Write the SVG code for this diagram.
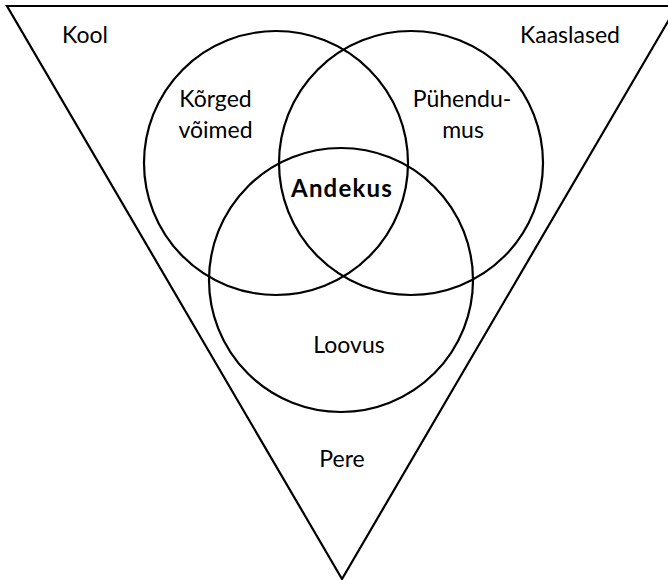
<svg xmlns="http://www.w3.org/2000/svg" width="668" height="580" viewBox="0 0 668 580">
<style>
.shape{fill:none;stroke:#000;stroke-width:2.2}
.lbl{font-family:Lato,"Liberation Sans",sans-serif;font-size:23px;fill:#000;text-anchor:middle}
.bold{font-weight:bold;font-size:24px;letter-spacing:1.2px}
</style>
<rect x="0" y="0" width="668" height="580" fill="#fff"/>
<g id="triangle">
<polygon class="shape" points="7,6 677,6 342,579"/>
<text class="lbl" x="85" y="43">Kool</text>
<text class="lbl" x="570" y="43">Kaaslased</text>
<text class="lbl" x="342" y="467">Pere</text>
</g>
<g id="korged">
<circle class="shape" cx="276" cy="163" r="132"/>
<text class="lbl" x="215.5" y="107">Kõrged</text>
<text class="lbl" x="215.5" y="138">võimed</text>
</g>
<g id="puhendumus">
<circle class="shape" cx="411" cy="163" r="132"/>
<text class="lbl" x="462" y="107">Pühendu-</text>
<text class="lbl" x="463" y="138">mus</text>
</g>
<g id="loovus">
<circle class="shape" cx="341" cy="280" r="132"/>
<text class="lbl" x="349" y="353">Loovus</text>
</g>
<g id="andekus">
<text class="lbl bold" x="342" y="197">Andekus</text>
</g>
<g id="connectors"></g>
</svg>
